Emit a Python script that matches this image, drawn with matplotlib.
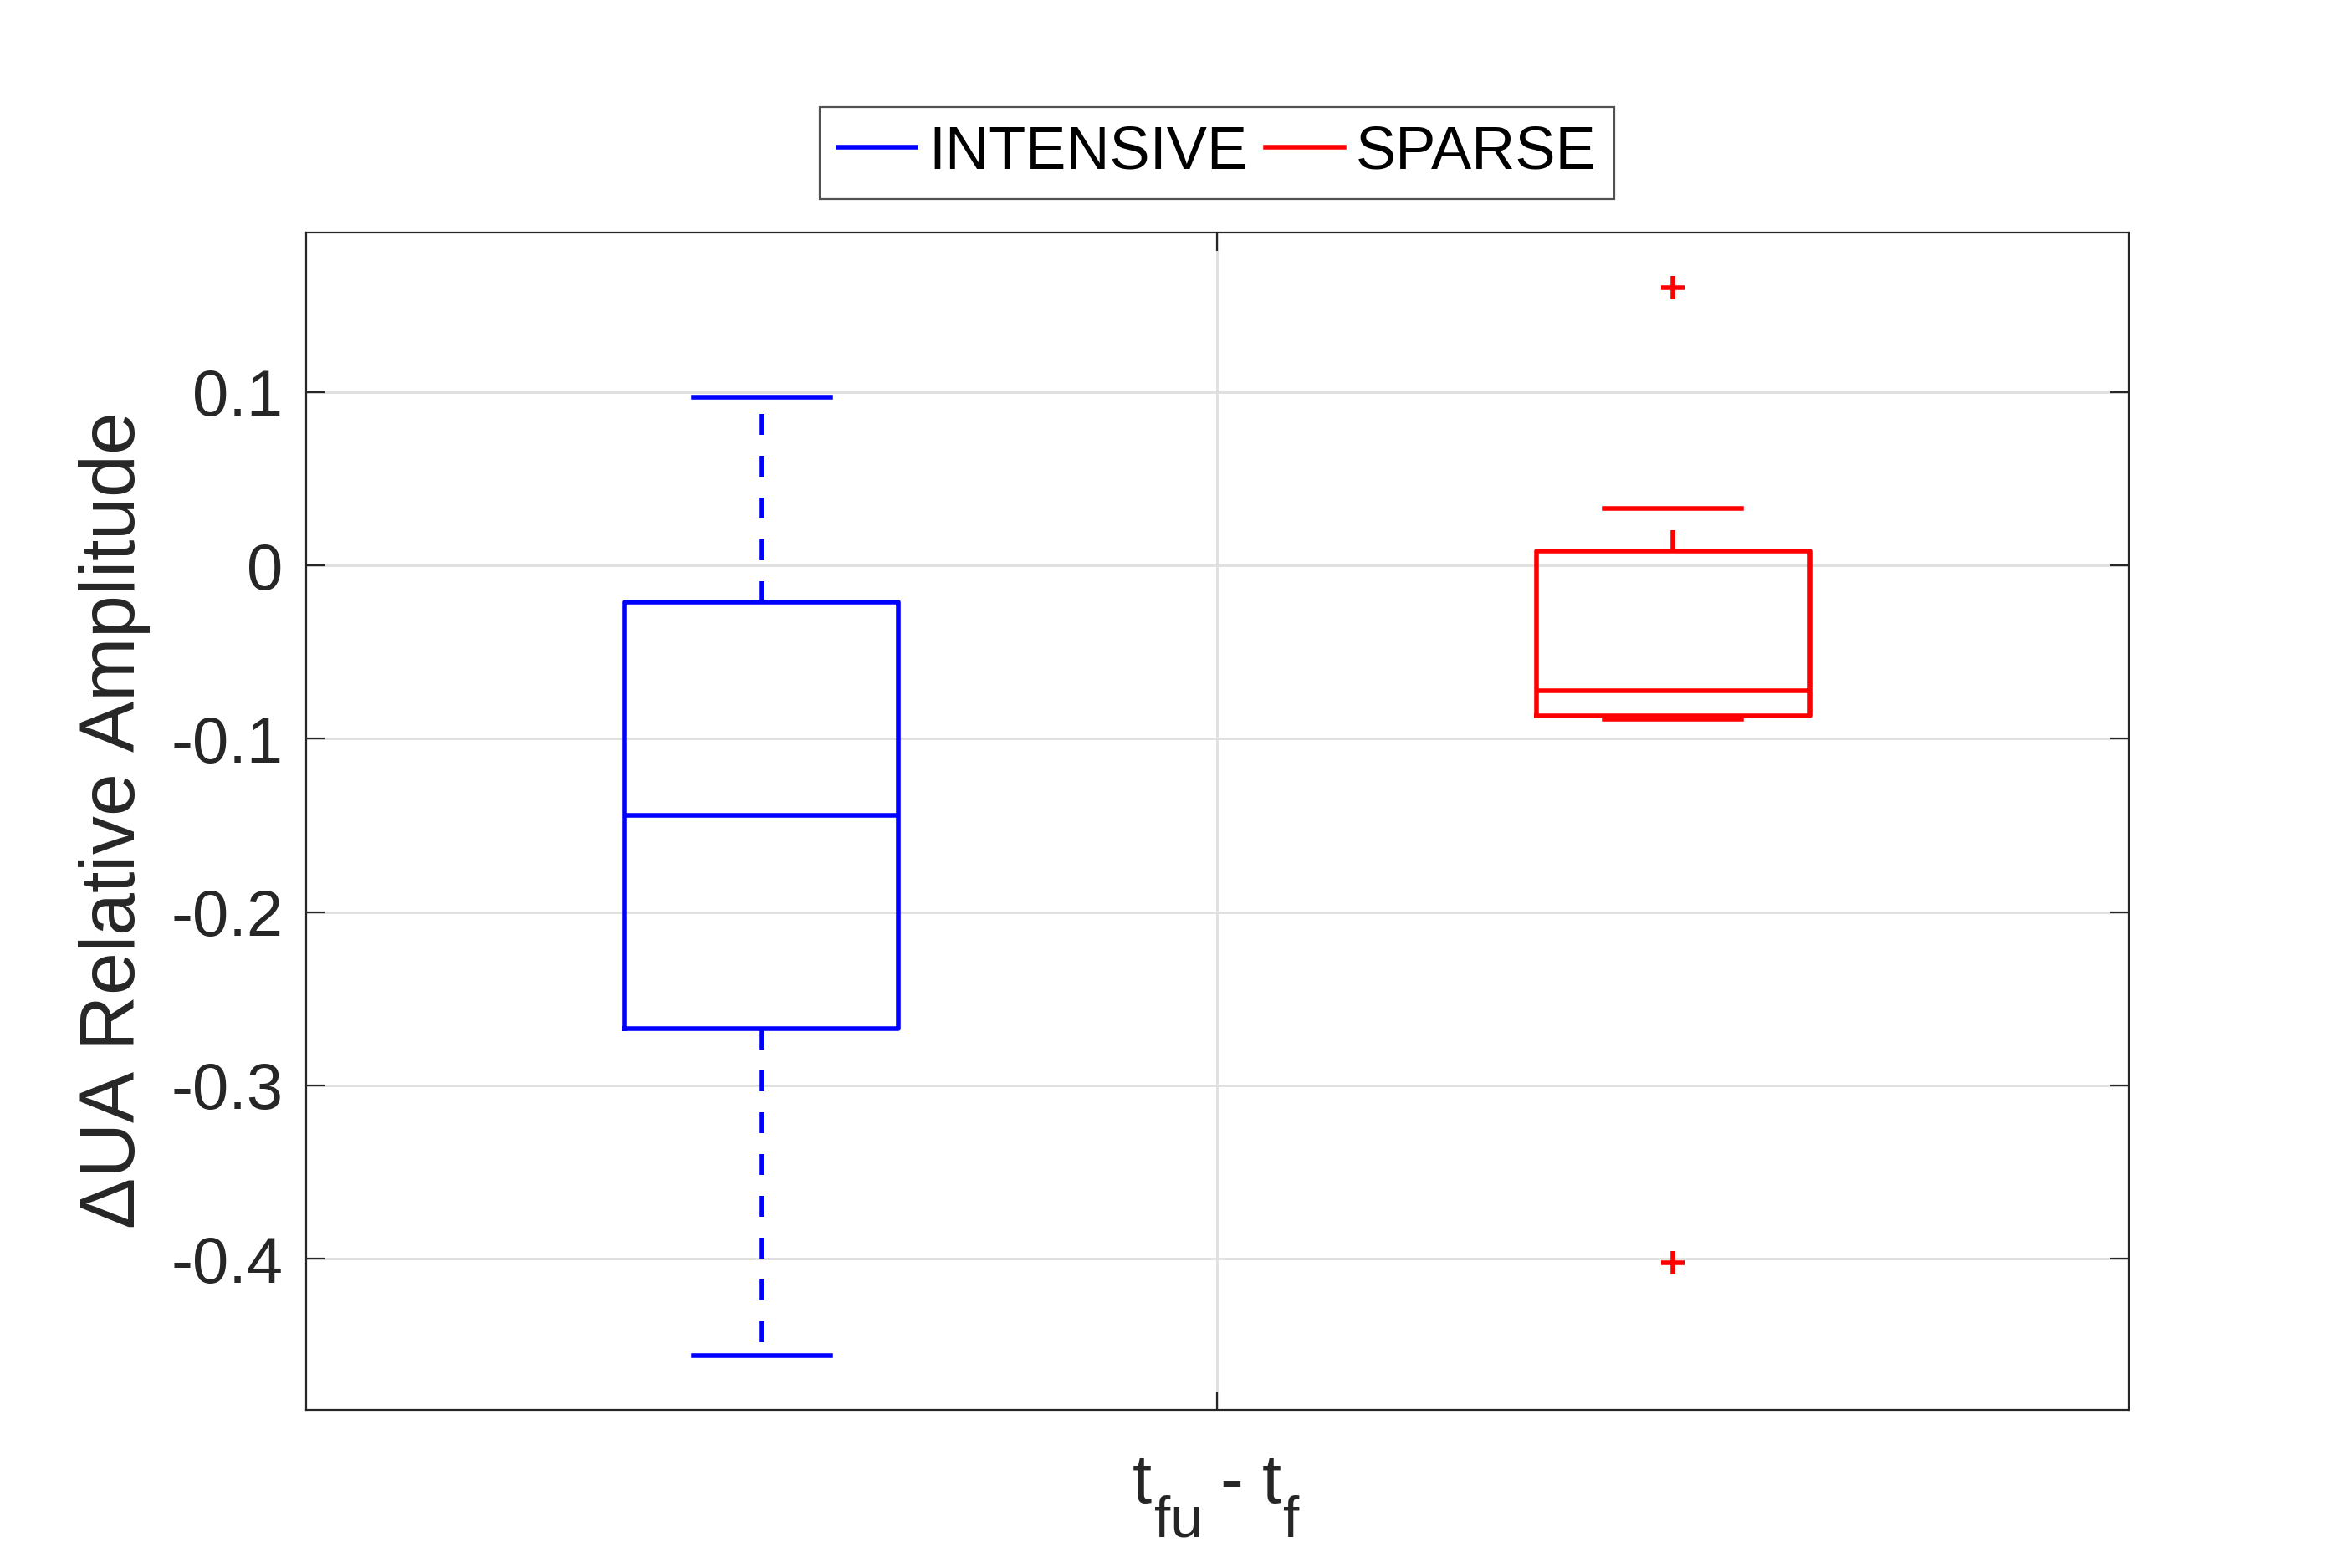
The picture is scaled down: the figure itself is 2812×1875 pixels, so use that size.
import matplotlib
matplotlib.use('Agg')
import matplotlib.pyplot as plt
from matplotlib.lines import Line2D

# box statistics
groups = ['INTENSIVE', 'SPARSE']
colors = ['#0000ff', '#ff0000']
positions = [1, 2]
q1 = [-0.267, -0.087]
med = [-0.144, -0.0725]
q3 = [-0.021, 0.008]
whislo = [-0.456, -0.0887]
whishi = [0.097, 0.033]
fliers = [[], [0.160, -0.4025]]

yticks = [-0.4, -0.3, -0.2, -0.1, 0, 0.1]
ytick_labels = ['-0.4', '-0.3', '-0.2', '-0.1', '0', '0.1']

plt.rcParams['font.family'] = ['Liberation Sans', 'DejaVu Sans']
plt.rcParams['mathtext.default'] = 'regular'
plt.rcParams['axes.unicode_minus'] = False

dark = '#262626'
W, H = 2812, 1875

fig = plt.figure(figsize=(14.06, 9.375), dpi=200)
ax = fig.add_axes([0.1302, 0.1008, 0.7748, 0.7509])

for i in range(len(groups)):
    stats = [dict(med=med[i], q1=q1[i], q3=q3[i], whislo=whislo[i],
                  whishi=whishi[i], fliers=fliers[i])]
    c = colors[i]
    ax.bxp(stats, positions=[positions[i]], widths=0.3, capwidths=0.15,
           showfliers=True,
           boxprops=dict(color=c, linewidth=2.0),
           medianprops=dict(color=c, linewidth=2.0),
           whiskerprops=dict(color=c, linewidth=2.0, linestyle=(0, (4.5, 4.5))),
           capprops=dict(color=c, linewidth=2.0),
           flierprops=dict(marker='+', markeredgecolor=c, markersize=10,
                           markeredgewidth=2.0, linestyle='none'),
           manage_ticks=False)

ax.set_xlim(0.5, 2.5)
ax.set_ylim(-0.4872, 0.192)
ax.set_xticks([1.5])
ax.set_xticklabels([''])
ax.set_yticks(yticks)
ax.set_yticklabels(ytick_labels)

ax.grid(True, color='#dfdfdf', linewidth=1.0)
ax.set_axisbelow(True)
ax.tick_params(axis='both', direction='in', length=8, width=0.8, color=dark,
               labelcolor=dark, labelsize=28, top=True, right=True, pad=10)
for s in ax.spines.values():
    s.set_color(dark)
    s.set_linewidth(0.8)

ax.set_ylabel('$\\Delta$UA Relative Amplitude', fontsize=33, color=dark, labelpad=8)

# x label written the MATLAB tex way: big subscripts, dropped low
def px_text(x, y, s, size):
    fig.text(x / W, 1 - y / H, s, fontsize=size, color=dark,
             ha='left', va='baseline')

px_text(1354, 1797, 't', 30)
px_text(1380, 1838, 'fu', 25)
px_text(1458, 1797, '-', 30)
px_text(1509, 1797, 't', 30)
px_text(1534, 1838, 'f', 25)

handles = [Line2D([0], [0], color=c, linewidth=2.0) for c in colors]
leg = fig.legend(handles, groups, loc='center', bbox_to_anchor=(0.5175, 0.9024),
                 ncol=2, fontsize=26, frameon=True, fancybox=False,
                 handlelength=1.3, handletextpad=0.2, columnspacing=0.3,
                 borderpad=0.3, borderaxespad=0)
leg.get_frame().set_edgecolor(dark)
leg.get_frame().set_linewidth(0.8)

fig.savefig('out.png', dpi=200)
